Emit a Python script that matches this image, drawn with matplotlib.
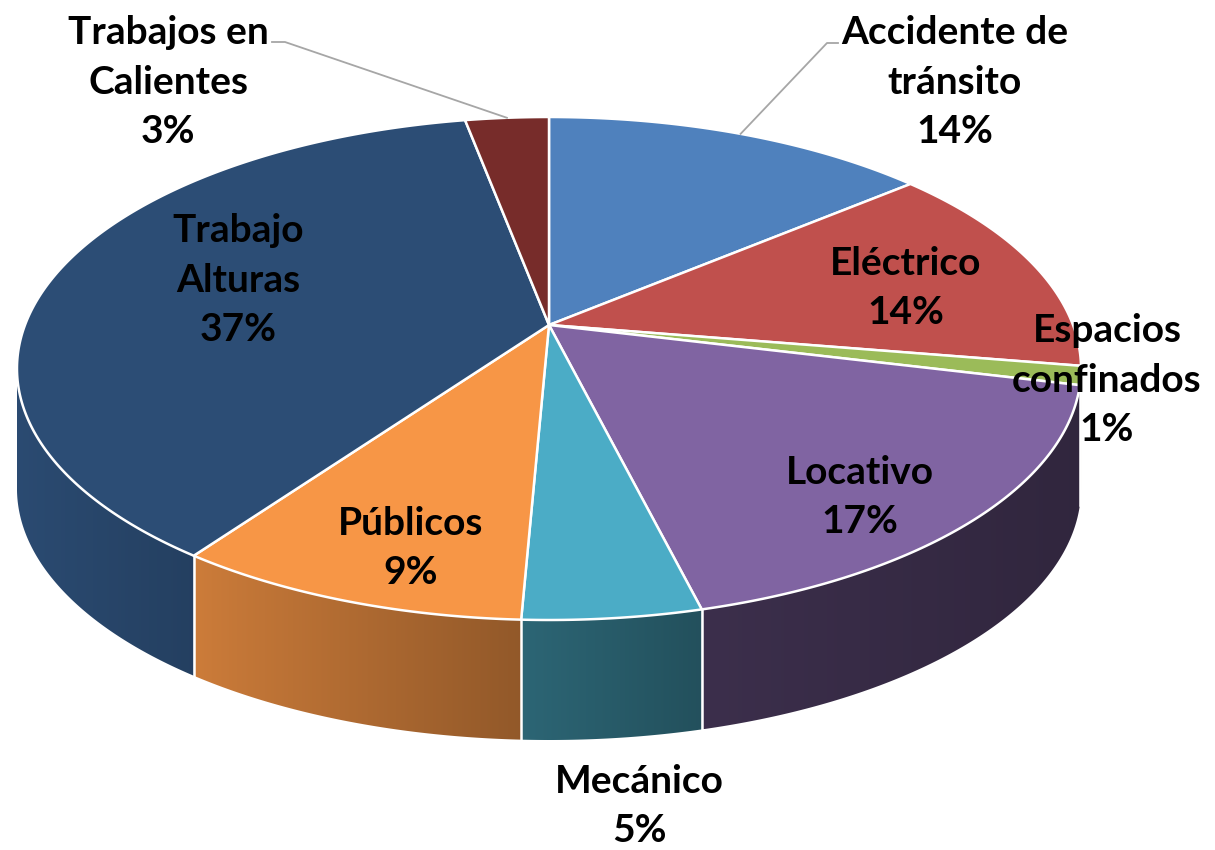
import numpy as np
import matplotlib
matplotlib.use("Agg")
import matplotlib.pyplot as plt
from matplotlib.patches import Polygon
from matplotlib.colors import to_rgb

# data (clockwise from 12 o'clock), percent of total
labels = ['Accidente de\ntránsito', 'Eléctrico', 'Espacios\nconfinados', 'Locativo',
          'Mecánico', 'Públicos', 'Trabajo\nAlturas', 'Trabajos en\nCalientes']
values = [13.9, 13.7, 1.2, 17.3, 4.6, 9.2, 37.1, 3.0]
colors = ['#4F81BD', '#C0504D', '#9BBB59', '#8064A2', '#4BACC6', '#F79646', '#2C4D75', '#772C2A']

# layout (pixel space of the picture)
W, H = 1215, 850
cx, cy = 549, 325          # pie apex on screen
ytop, ybot = 117, 620      # far / near rim of the top face
rx = 524                   # horizontal scale
depth = 120                # thickness of the pie
label_pos = [(955, 82), (906, 288), (1107, 380), (860, 497),
             (639, 806), (411, 548), (238, 280), (168, 82)]
# leader lines: (elbow, end) for outside labels
leaders = {0: [(827, 43), (838, 43)], 7: [(285, 42), (272, 42)]}

# perspective of the disk: y_s = (a*y + cy) / (c*y + 1)
c = (2 * cy - ybot - ytop) / (ytop - ybot)
a = ytop * (c + 1) - cy


def proj(theta, r=1.0):
    t = np.radians(theta)
    xp = r * np.sin(t)
    yp = r * np.cos(t)
    w = c * yp + 1
    return cx + rx * xp / w, (a * yp + cy) / w


# light falloff of the side wall, by horizontal position
kx = [-1.0, -0.58, -0.05, 0.28, 1.0]
kv = [0.97, 0.79, 0.59, 0.47, 0.38]

fig = plt.figure(figsize=(W / 100, H / 100), dpi=100)
ax = fig.add_axes([0, 0, 1, 1])

total = sum(values)
bounds = np.concatenate([[0], np.cumsum(values) / total * 360])
front_r = np.degrees(np.arccos(-c))
front_l = 360 - front_r
xwide = rx / np.sqrt(1 - c ** 2)

# side walls with a horizontal gradient
for i in range(len(values)):
    s = max(bounds[i], front_r)
    e = min(bounds[i + 1], front_l)
    if e <= s:
        continue
    ts = np.linspace(s, e, max(3, int((e - s) * 4)))
    xs, ys = proj(ts)
    pts = list(zip(xs, ys)) + list(zip(xs[::-1], ys[::-1] + depth))
    wall = Polygon(pts, closed=True, fc='none', ec='none')
    ax.add_patch(wall)
    gx = np.linspace(xs.min(), xs.max(), 200)
    k = np.interp((gx - cx) / xwide, kx, kv)
    img = np.array(to_rgb(colors[i]))[None, None, :] * k[None, :, None]
    im = ax.imshow(img, extent=[xs.min(), xs.max(), ys.max() + depth, ys.min()],
                   aspect='auto', interpolation='bilinear', zorder=1)
    im.set_clip_path(wall)

# white seams on the wall
for b in bounds[1:-1]:
    if front_r < b < front_l:
        x0, y0 = proj(b)
        ax.plot([x0, x0], [y0, y0 + depth], color='white', lw=1.8, zorder=2)

# top faces
for i in range(len(values)):
    ts = np.linspace(bounds[i], bounds[i + 1], max(3, int(values[i] * 8)))
    xs, ys = proj(ts)
    pts = [(cx, cy)] + list(zip(xs, ys))
    ax.add_patch(Polygon(pts, closed=True, fc=colors[i], ec='white', lw=1.8,
                         joinstyle='round', zorder=3))

# leader lines
for i, pts in leaders.items():
    mid = (bounds[i] + bounds[i + 1]) / 2
    x0, y0 = proj(mid)
    xs = [x0] + [p[0] for p in pts]
    ys = [y0] + [p[1] for p in pts]
    ax.plot(xs, ys, color='#A6A6A6', lw=1.3, zorder=4)

# labels
for i in range(len(values)):
    x, y = label_pos[i]
    pct = round(values[i] / total * 100)
    ax.text(x, y, f'{labels[i]}\n{pct}%', ha='center', va='center',
            fontsize=28, fontweight='bold', family='Lato', color='black',
            linespacing=1.5, zorder=5)

ax.set_xlim(0, W)
ax.set_ylim(H, 0)
ax.axis('off')

fig.savefig('out.png', dpi=100, facecolor='white')
